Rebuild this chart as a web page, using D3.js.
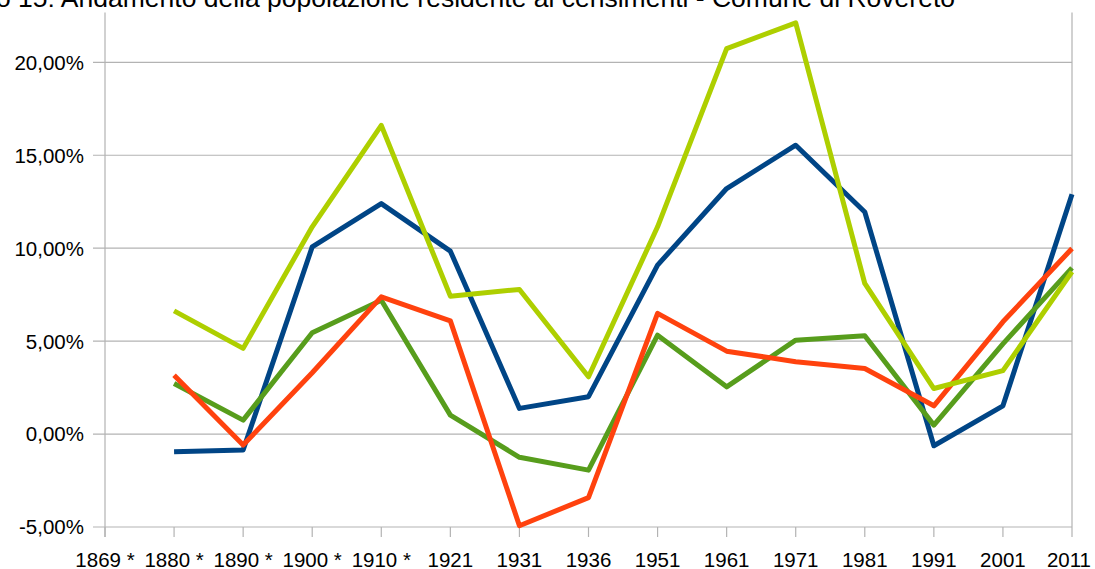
<!DOCTYPE html>
<html>
<head>
<meta charset="utf-8">
<script src="https://cdn.jsdelivr.net/npm/d3@7"></script>
<style>
    html, body { margin: 0; padding: 0; background: #fff; overflow: hidden; }
    text { font-family: "Liberation Sans", Arial, sans-serif; fill: #000; }
</style>
</head>
<body>
<div id="chart"></div>
<script>
// Censimenti (the first one has no variation)
const years = ["1869 *", "1880 *", "1890 *", "1900 *", "1910 *", "1921", "1931", "1936",
    "1951", "1961", "1971", "1981", "1991", "2001", "2011"]

// Variazione percentuale della popolazione residente
const serieBlu = [null, -0.95, -0.86, 10.07, 12.40, 9.84, 1.38, 2.01, 9.09, 13.21, 15.54, 11.95, -0.63, 1.52, 12.90]
const serieVerde = [null, 2.72, 0.75, 5.45, 7.20, 1.02, -1.25, -1.94, 5.32, 2.54, 5.05, 5.29, 0.48, 4.85, 8.94]
const serieArancio = [null, 3.17, -0.59, 3.30, 7.38, 6.09, -4.93, -3.42, 6.49, 4.46, 3.89, 3.53, 1.52, 6.04, 9.98]
const serieVerdeChiaro = [null, 6.63, 4.61, 11.15, 16.61, 7.42, 7.78, 3.08, 11.15, 20.74, 22.12, 8.10, 2.45, 3.41, 8.73]

const yTicks = [-5, 0, 5, 10, 15, 20]

const title = "Grafico 15: Andamento della popolazione residente ai censimenti - Comune di Rovereto"

function drawChart(node, width, height) {
    let svg = d3.select(node)
        .append('svg')
            .attr('width', width)
            .attr('height', height);

    const left = 105, right = 1072, top = 12.5, bottom = 527
    const tickLen = 12

    const x = d3.scalePoint()
        .domain(years)
        .range([left, right]);
    const y = d3.scaleLinear()
        .domain([-5, 20])
        .range([bottom, 62.3]);

    // Gridlines
    svg.append('g')
        .selectAll('line')
        .data(yTicks)
        .enter()
        .append('line')
            .attr('x1', left - tickLen)
            .attr('x2', right)
            .attr('y1', d => y(d))
            .attr('y2', d => y(d))
            .attr('stroke', '#b3b3b3')
            .attr('stroke-width', 1.2);

    // Y axis labels
    const fmt = d => d.toFixed(2).replace('.', ',') + '%'
    svg.append('g')
        .selectAll('text')
        .data(yTicks)
        .enter()
        .append('text')
            .attr('x', 84)
            .attr('y', d => y(d))
            .attr('dy', '0.36em')
            .attr('text-anchor', 'end')
            .style('font-size', '20.5px')
            .text(fmt);

    // Axis lines
    svg.append('line')
        .attr('x1', left).attr('x2', left)
        .attr('y1', top).attr('y2', bottom + tickLen - 2)
        .attr('stroke', '#b3b3b3').attr('stroke-width', 1.2);
    svg.append('line')
        .attr('x1', right).attr('x2', right)
        .attr('y1', top).attr('y2', bottom)
        .attr('stroke', '#b3b3b3').attr('stroke-width', 1.2);

    // X ticks and labels
    let xg = svg.append('g')
    xg.selectAll('line')
        .data(years)
        .enter()
        .append('line')
            .attr('x1', d => x(d))
            .attr('x2', d => x(d))
            .attr('y1', bottom)
            .attr('y2', bottom + tickLen - 2)
            .attr('stroke', '#b3b3b3')
            .attr('stroke-width', 1.2);
    xg.selectAll('text')
        .data(years)
        .enter()
        .append('text')
            .attr('x', d => x(d))
            .attr('y', 566.5)
            .attr('text-anchor', 'middle')
            .style('font-size', '20.5px')
            .text(d => d)
            .each(function() {
                // keep the last label inside the picture
                const b = this.getBBox()
                if (b.x + b.width > width - 4) {
                    d3.select(this).attr('x', width - 4).attr('text-anchor', 'end')
                }
            });

    // Lines
    const series = [
        {values: serieBlu, color: '#004586'},
        {values: serieVerde, color: '#579d1c'},
        {values: serieArancio, color: '#ff420e'},
        {values: serieVerdeChiaro, color: '#aecf00'}
    ]
    const line = d3.line()
        .defined(d => d.v !== null)
        .x(d => x(d.year))
        .y(d => y(d.v));

    svg.append('g')
        .selectAll('path')
        .data(series)
        .enter()
        .append('path')
            .attr('d', s => line(s.values.map((v, i) => ({year: years[i], v: v}))))
            .attr('fill', 'none')
            .attr('stroke', s => s.color)
            .attr('stroke-width', 5)
            .attr('stroke-linejoin', 'round');

    // Title (partly outside the picture, as in the original)
    svg.append('text')
        .attr('x', 955)
        .attr('y', 7)
        .attr('text-anchor', 'end')
        .style('font-size', '26.5px')
        .text(title);
}

window.onload = function() {
    drawChart('#chart', 1095, 569)
}
</script>
</body>
</html>
